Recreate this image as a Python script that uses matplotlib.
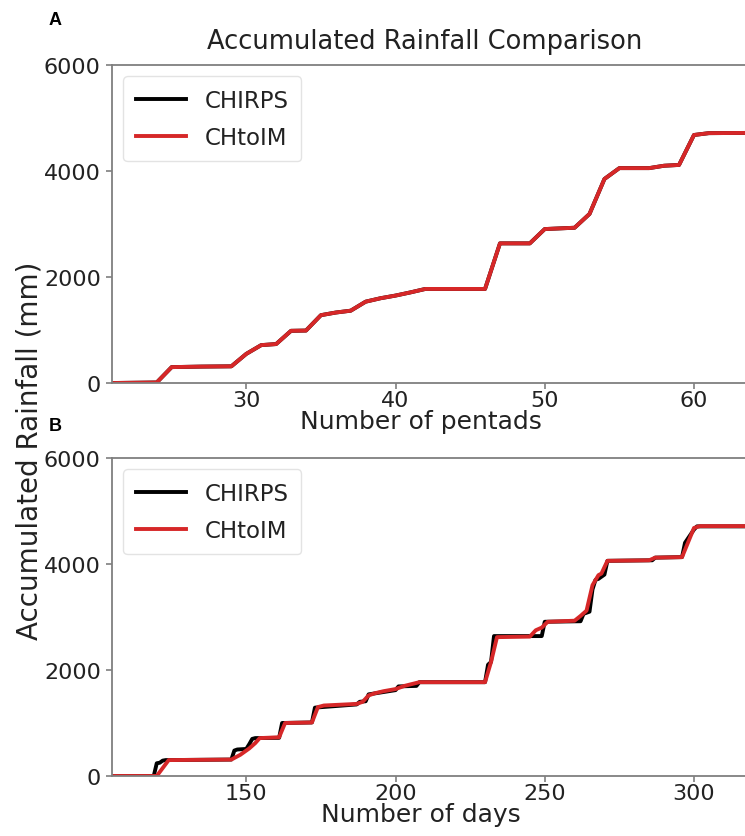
import matplotlib
matplotlib.use("Agg")
import matplotlib.pyplot as plt

# ---------------------------------------------
# accumulated rainfall, pentad resolution (panel A)
# ---------------------------------------------
pentads = [21, 24, 25, 27, 29, 30, 31, 32, 33, 34, 35, 36, 37, 38, 39, 40, 41, 42,
           46, 47, 49, 50, 52, 53, 54, 55, 57, 58, 59, 60, 61, 64]
pentad_chirps = [0, 10, 300, 310, 315, 550, 715, 735, 985, 990, 1280, 1330, 1365, 1535, 1600,
                 1650, 1710, 1775, 1775, 2635, 2635, 2905, 2930, 3190, 3850, 4055, 4055,
                 4100, 4115, 4680, 4715, 4720]
pentad_chtoim = list(pentad_chirps)

# ---------------------------------------------
# accumulated rainfall, daily resolution (panel B)
# ---------------------------------------------
days_chirps = [105, 119, 120, 121, 122, 123, 145, 146, 147, 150, 151, 152, 153, 161, 162,
               172, 173, 187, 188, 190, 191, 200, 201, 207, 208, 230, 231, 232, 233, 249,
               250, 262, 263, 265, 266, 267, 268, 270, 271, 286, 287, 296, 297, 300, 301, 320]
daily_chirps = [0, 0, 240, 250, 290, 300, 310, 480, 500, 510, 600, 700, 715, 720, 1000,
                1010, 1290, 1350, 1400, 1410, 1540, 1620, 1690, 1700, 1770, 1770, 2100, 2150,
                2640, 2640, 2910, 2920, 3060, 3100, 3520, 3700, 3720, 3800, 4060, 4070, 4120,
                4130, 4400, 4650, 4710, 4710]

days_chtoim = [105, 120, 124, 145, 148, 151, 153, 154.5, 161, 163, 172, 174, 176, 187, 189,
               191, 193, 196, 200, 203, 208, 230, 232, 234, 245, 247, 249, 251, 260, 262,
               264, 266, 268, 269, 271, 285, 287, 296, 300, 302, 320]
daily_chtoim = [0, 0, 300, 310, 400, 520, 620, 715, 730, 1000, 1010, 1300, 1330, 1360, 1400,
                1520, 1560, 1600, 1640, 1700, 1770, 1770, 2150, 2620, 2630, 2750, 2800, 2910,
                2930, 3020, 3120, 3600, 3790, 3820, 4060, 4070, 4120, 4130, 4680, 4715, 4715]

txt = '#222222'
spine = '#7f7f7f'

fig = plt.figure(figsize=(7.45, 8.37), dpi=100)
# axes run past the right edge of the figure on purpose
axA = fig.add_axes([0.1503, 0.5412, 1.0416, 0.3799])
axB = fig.add_axes([0.1503, 0.0717, 1.0416, 0.3799])


def style(ax):
    for s in ax.spines.values():
        s.set_color(spine)
        s.set_linewidth(1.3)
    ax.tick_params(colors=spine, labelcolor=txt, labelsize=16, length=4, width=1.2)
    ax.tick_params(axis='x', pad=1)
    ax.tick_params(axis='y', pad=4)
    ax.set_ylim(0, 6000)
    ax.set_yticks([0, 2000, 4000, 6000])


axA.plot(pentads, pentad_chirps, color='k', lw=2.8, label='CHIRPS')
axA.plot(pentads, pentad_chtoim, color='tab:red', lw=2.8, label='CHtoIM')
axA.set_xlim(21, 73)
axA.set_xticks([30, 40, 50, 60])
style(axA)
axA.set_xlabel('Number of pentads', fontsize=18, color=txt, labelpad=-1, x=0.398)

axB.plot(days_chirps, daily_chirps, color='k', lw=2.8, label='CHIRPS')
axB.plot(days_chtoim, daily_chtoim, color='tab:red', lw=2.8, label='CHtoIM')
axB.set_xlim(105, 365)
axB.set_xticks([150, 200, 250, 300])
style(axB)
axB.set_xlabel('Number of days', fontsize=18, color=txt, labelpad=-1, x=0.398)

for ax in (axA, axB):
    leg = ax.legend(loc='upper left', fontsize=16.5, handlelength=2.2, borderpad=0.55,
                    labelspacing=0.6, bbox_to_anchor=(0.0, 1.0), borderaxespad=0.5)
    leg.get_frame().set_edgecolor('#dddddd')
    for t in leg.get_texts():
        t.set_color(txt)

fig.text(0.570, 0.950, 'Accumulated Rainfall Comparison', fontsize=18.5, color=txt,
         ha='center', va='center')
fig.text(0.040, 0.461, 'Accumulated Rainfall (mm)', fontsize=20, color=txt,
         rotation=90, ha='center', va='center')
fig.text(0.074, 0.975, 'A', fontsize=13, fontweight='bold', family='Liberation Sans',
         ha='center', va='center')
fig.text(0.074, 0.490, 'B', fontsize=13, fontweight='bold', family='Liberation Sans',
         ha='center', va='center')

fig.savefig('out.png', dpi=100)
